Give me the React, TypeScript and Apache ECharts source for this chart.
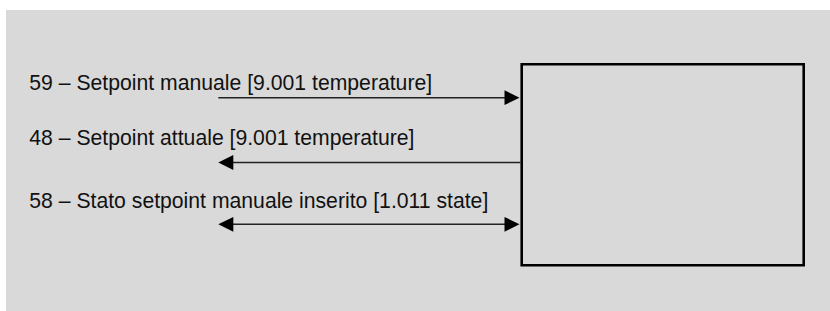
import React, { useEffect, useRef } from "react";
import * as echarts from "echarts";

// Signal labels (data)
const signalLabels: string[] = [
  "59 – Setpoint manuale [9.001 temperature]",
  "48 – Setpoint attuale [9.001 temperature]",
  "58 – Stato setpoint manuale inserito [1.011 state]",
];
// Direction of each signal relative to the device: "in", "out", "both"
const signalDirections: string[] = ["in", "out", "both"];

// Layout (positions / sizes / styles)
const W = 830;
const H = 311;
const BG = { x: 6, y: 10, color: "#d9d9d9" };
const BOX = { x: 521.7, y: 64.3, w: 282, h: 201, lw: 2.6 };
const TEXT_X = 29.3;
const TEXT_MID_Y = [82, 137.8, 200.3];
const ARROW_Y = [97.7, 162.5, 224.3];
const ARROW_LEFT = 218.3;
const ARROW_RIGHT = 519.5;
const HEAD_LEN = 15;
const HEAD_HALF = 7.4;
const LINE_COLOR = "#222";

function buildGraphics() {
  const els: any[] = [];
  els.push({
    type: "rect",
    shape: { x: BG.x, y: BG.y, width: W - BG.x, height: H - BG.y },
    style: { fill: BG.color },
    silent: true,
  });
  els.push({
    type: "rect",
    shape: { x: BOX.x, y: BOX.y, width: BOX.w, height: BOX.h },
    style: { fill: "none", stroke: "#000", lineWidth: BOX.lw },
    silent: true,
  });
  signalLabels.forEach((label, i) => {
    const dir = signalDirections[i];
    const y = ARROW_Y[i];
    els.push({
      type: "text",
      x: TEXT_X,
      y: TEXT_MID_Y[i],
      style: {
        text: label,
        fill: "#111",
        font: '21.2px "Liberation Sans", Arial, sans-serif',
        textAlign: "left",
        textVerticalAlign: "middle",
      },
      silent: true,
    });
    const headRight = dir === "in" || dir === "both";
    const headLeft = dir === "out" || dir === "both";
    const x1 = headLeft ? ARROW_LEFT + HEAD_LEN - 1 : ARROW_LEFT;
    const x2 = headRight ? ARROW_RIGHT - HEAD_LEN + 1 : ARROW_RIGHT + 1;
    els.push({
      type: "line",
      shape: { x1, y1: y, x2, y2: y },
      style: { stroke: LINE_COLOR, lineWidth: 1.6 },
      silent: true,
    });
    if (headRight) {
      els.push({
        type: "polygon",
        shape: {
          points: [
            [ARROW_RIGHT, y],
            [ARROW_RIGHT - HEAD_LEN, y - HEAD_HALF],
            [ARROW_RIGHT - HEAD_LEN, y + HEAD_HALF],
          ],
        },
        style: { fill: "#000" },
        silent: true,
      });
    }
    if (headLeft) {
      els.push({
        type: "polygon",
        shape: {
          points: [
            [ARROW_LEFT, y],
            [ARROW_LEFT + HEAD_LEN, y - HEAD_HALF],
            [ARROW_LEFT + HEAD_LEN, y + HEAD_HALF],
          ],
        },
        style: { fill: "#000" },
        silent: true,
      });
    }
  });
  return els;
}

export default function App() {
  const ref = useRef<HTMLDivElement>(null);
  useEffect(() => {
    document.body.style.margin = "0";
    if (!ref.current) return;
    const chart = echarts.init(ref.current, undefined, { renderer: "svg" });
    chart.setOption({
      animation: false,
      backgroundColor: "#ffffff",
      graphic: { elements: buildGraphics() },
    });
    return () => chart.dispose();
  }, []);
  return <div ref={ref} style={{ width: W, height: H }} />;
}
